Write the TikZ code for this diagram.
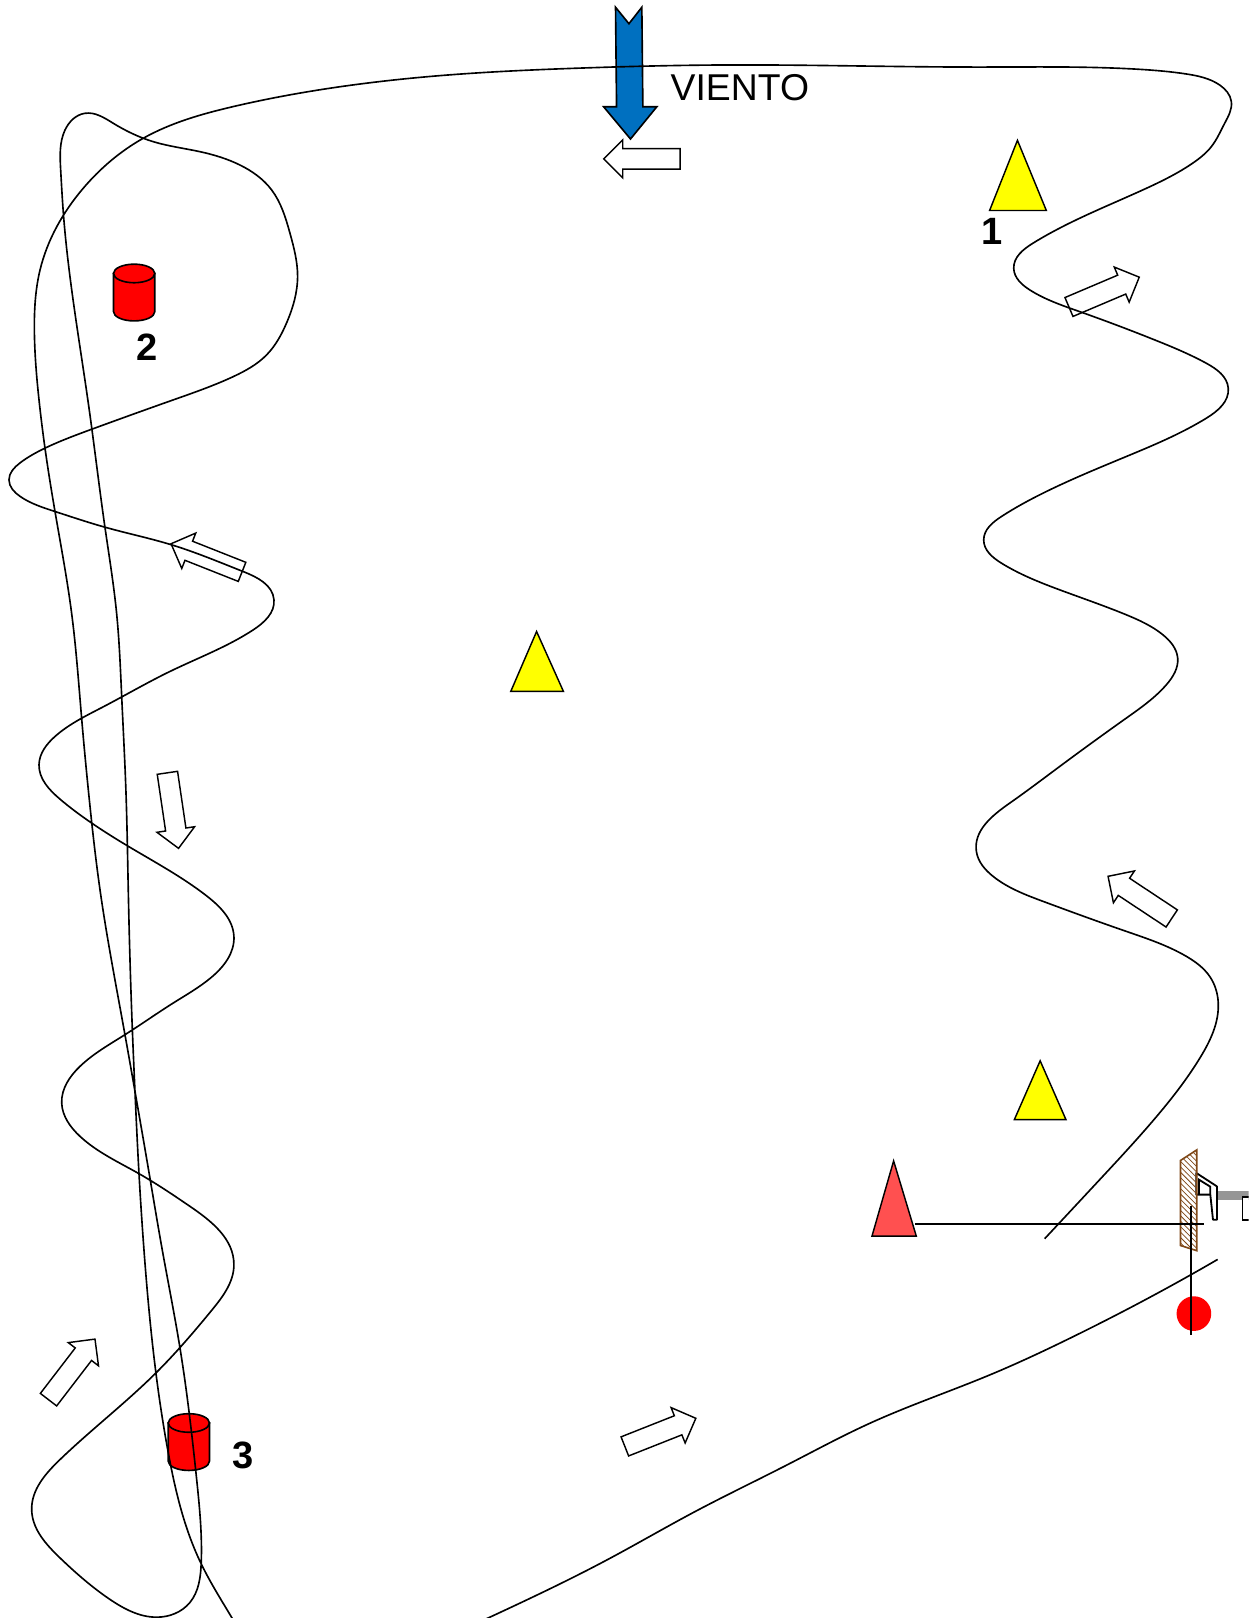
\documentclass[tikz,border=0pt]{standalone}
\usepackage{fontspec}
\setmainfont{Liberation Sans}
\usetikzlibrary{shapes.arrows, patterns, hobby}
\definecolor{myblue}{RGB}{0, 112, 192}
\definecolor{myred}{RGB}{255, 80, 80}
\definecolor{myyellow}{RGB}{255, 255, 0}
\definecolor{mybuoy}{RGB}{255, 0, 0}
\definecolor{mybrown}{RGB}{127, 72, 24}
\definecolor{mygray}{RGB}{150, 150, 150}
\tikzstyle{rumbo} = [line width=0.9pt]
\tikzstyle{cono} = [line width=0.8pt, draw=black, fill=myyellow, line join=miter]
\tikzstyle{boya} = [line width=0.9pt, draw=black, fill=mybuoy]
\tikzstyle{flecha} = [single arrow, draw=black, fill=white, line width=0.8pt, minimum height=1.48cm, minimum width=0.72cm, single arrow head extend=0.17cm, inner xsep=0pt, inner ysep=0.185cm]
\tikzstyle{numero} = [font=\bfseries\fontsize{21}{21}\selectfont]
\begin{document}
\begin{tikzpicture}[x=0.02cm, y=-0.02cm, use Hobby shortcut]
    \clip (0,0) rectangle (1210,1568);

    \draw [fill=myblue, line width=0.9pt] (596.5,7) -- (609.5,23) -- (622,7) -- (623,103.5) -- (636.5,103.5) -- (611,134.7) -- (585,103.5) -- (597.5,103.5) -- cycle;
    \node (viento) at (717,85) {\fontsize{20.6}{20.6}\selectfont VIENTO};

    \draw [cono] (959,204) -- (986,136) -- (1014,204) -- cycle;
    \draw [cono] (495,670) -- (520,612) -- (546,670) -- cycle;
    \draw [cono] (983,1085) -- (1008,1028) -- (1033,1085) -- cycle;
    \draw [cono, fill=myred] (845,1198) -- (866,1125) -- (888,1198) -- cycle;

    \foreach \bx/\by in {130/265, 183/1379} {
        \draw [boya] (\bx-20,\by) -- (\bx-20,\by+37) arc (180:360:20 and -9) -- (\bx+20,\by) -- cycle;
        \draw [boya] (\bx,\by) ellipse (20 and 9);
    }

    \node (num1) [numero] at (961,224) {1};
    \node (num2) [numero] at (143,336) {2};
    \node (num3) [numero] at (236,1410) {3};

    \node (fl1) [flecha, rotate=180] at (627,154) {};
    \node (fl2) [flecha, rotate=23] at (1065.4,285) {};
    \node (fl3) [flecha, rotate=158.4] at (204.8,542.4) {};
    \node (fl4) [flecha, rotate=-81.6] at (166.9,780.6) {};
    \node (fl5) [flecha, rotate=146.5] at (1108.8,872.4) {};
    \node (fl6) [flecha, rotate=52.5] at (66.5,1331) {};
    \node (fl7) [flecha, rotate=21.6] at (635.3,1389.9) {};

    \draw [rumbo] (1012.4,1200.4) .. (1065.7,1143.2) .. (1120,1083) .. (1163,1025) .. (1180.6,972) .. (1172.3,946.2) .. (1149.7,926.8) .. (1091.5,902.6) .. (1010.8,873.5) .. (962.4,849.3) .. (946.2,825.1) .. (978.5,778.3)
        .. (1026.9,742.8) .. (1091.5,695.9) .. (1130.3,663.6) .. (1141.3,637.8) .. (1127,615.2) .. (1091.5,595.8) .. (1026.9,571.6) .. (970.4,545.7) .. (953.3,523.2) .. (970.4,500.6) .. (1010.8,477.9)
        .. (1091.5,442.4) .. (1169,405.3) .. (1190.3,376.2) .. (1169,352) .. (1119,329.4) .. (1046.3,302) .. (998,281) .. (982.4,260) .. (1001,235.7) .. (1046.3,211.5) .. (1110.9,182.5) .. (1156,158)
        .. (1174,142) .. (1186.8,119.5) .. (1193.3,98.5) .. (1182,82.4) .. (1149.7,71.7) .. (1104.5,67.2) .. (949,65) .. (697,63) .. (562,66) .. (430,73) .. (310,87) .. (226,103.3) .. (138.8,134)
        .. (80.7,182.4) .. (38.8,261.6) .. (33.3,319.7) .. (37.8,387.5) .. (43.6,434.3) .. (53.3,495.7) .. (69.4,594.2) .. (79.1,695.9) .. (86.5,774.4) .. (96.9,862.2) .. (121.1,1002.7)
        .. (130.8,1057.6) .. (145.3,1141.6) .. (157.2,1211) .. (174.4,1306.2) .. (190.6,1433.8) .. (195,1514.6) .. (184,1553) .. (151.8,1567.2) .. (106.6,1550) .. (58.1,1509.7) .. (30.7,1462.9)
        .. (58.1,1414.5) .. (151.1,1330.5) .. (205,1270) .. (226.7,1225.5) .. (184,1169) .. (134.7,1137.4) .. (77.5,1101.2) .. (59.8,1068.9) .. (77.5,1033.4)
        .. (121.1,1002.7) .. (167.9,972) .. (205,947) .. (226.7,907.5) .. (200,868) .. (123.4,819.6) .. (88.8,797.6) .. (58.1,774.4) .. (37.8,741) .. (53.3,713.7) .. (100,685)
        .. (164.7,650.7) .. (245.4,610.4) .. (265.5,581.3) .. (235.7,553.9) .. (166.3,528) .. (101.7,510.9) .. (53.3,495.7) .. (19.4,481) .. (8.7,465) .. (19.4,448.6) .. (43.6,434.3) .. (88.8,416) .. (168,387.5) .. (226,365) .. (258.3,344)
        .. (277.7,313) .. (288.4,268) .. (281,226) .. (263.2,184) .. (232.5,159.9) .. (193.8,147) .. (148.5,137.3) .. (109.8,119.5) .. (82.3,109.8) .. (63,126) .. (58.8,164.7) .. (61.4,206.6) .. (86.5,397.2) .. (101.7,510.9)
        .. (113,594.2) .. (117.9,674.3) .. (122,765.4) .. (124.3,862.2) .. (128.2,996.2) .. (130.8,1057.6) .. (134.7,1137.4) .. (139.5,1211) .. (151.1,1330.5) .. (163.1,1408) .. (193.8,1513) .. (224.4,1567.2) .. (232,1580);
    \draw [rumbo] (1180,1220.5) .. (1157.7,1233.3) .. (1036.6,1297) .. (959,1332.5) .. (842.9,1379.3) .. (762,1420) .. (673.3,1465) .. (591,1510.2) .. (474.7,1567.2) .. (460,1574);

    \fill [mygray] (1180,1154.5) rectangle (1210,1162.6);
    \draw [line width=1pt, fill=white] (1204,1160) rectangle (1225,1182);
    \draw [line width=1pt, line join=round] (1159.3,1136.7) -- (1179.3,1149.7) -- (1179.3,1182) -- (1175.5,1182) -- (1172.9,1157.7) -- (1159.3,1157.7) -- cycle;
    \draw [line width=1pt] (1161.9,1157.7) -- (1161.9,1143.2) -- (1172.9,1150) -- (1172.9,1157.7);

    \draw [draw=mybrown, line width=0.9pt, pattern=north west lines, pattern color=mybrown] (1144,1124.6) -- (1159.7,1114.4) -- (1159.7,1212) -- (1144,1207) -- cycle;
    \draw [rumbo] (887,1186) -- (1167,1186);

    \fill [mybuoy] (1157,1273) circle (16.8);
    \draw [rumbo] (1154,1168.6) -- (1154,1293.5);
\end{tikzpicture}
\end{document}
